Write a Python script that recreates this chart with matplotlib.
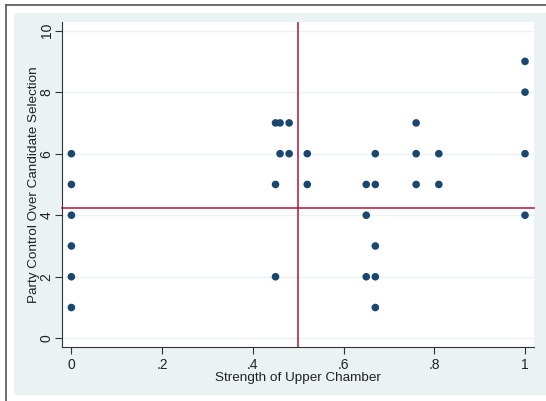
import matplotlib
matplotlib.use("Agg")
import matplotlib.pyplot as plt
from matplotlib.patches import Rectangle

plt.rcParams['font.family'] = ['Liberation Sans', 'DejaVu Sans']

strength = [0, 0, 0, 0, 0, 0,
            0.45, 0.45, 0.45,
            0.46, 0.46,
            0.48, 0.48,
            0.52, 0.52,
            0.65, 0.65, 0.65,
            0.67, 0.67, 0.67, 0.67, 0.67,
            0.76, 0.76, 0.76,
            0.81, 0.81,
            1, 1, 1, 1]
control = [6, 5, 4, 3, 2, 1,
           7, 5, 2,
           7, 6,
           7, 6,
           6, 5,
           5, 4, 2,
           6, 5, 3, 2, 1,
           7, 6, 5,
           6, 5,
           9, 8, 6, 4]
x_ref = 0.5
y_ref = 4.22
xticks = [0, 0.2, 0.4, 0.6, 0.8, 1]
xticklabels = ['0', '.2', '.4', '.6', '.8', '1']
yticks = [0, 2, 4, 6, 8, 10]

W, H = 546, 401
fig = plt.figure(figsize=(W/100, H/100), dpi=100)
fig.patch.set_facecolor('white')

# background axes for light panel and outer border
bg = fig.add_axes([0, 0, 1, 1], zorder=-5)
bg.set_xlim(0, W)
bg.set_ylim(H, 0)
bg.axis('off')
bg.add_patch(Rectangle((14, 13), 546 - 14, 395 - 13, facecolor='#eaf2f3',
                       edgecolor='none'))
bg.plot([5.5, 5.5], [H, 5], color='#555555', lw=1.2)
bg.plot([5.5, W], [5, 5], color='#555555', lw=1.2)

ax = fig.add_axes([62/W, 1 - 347/H, (534-62)/W, (347-22)/H], zorder=1)
ax.set_facecolor('white')
ax.set_xlim(-0.0207, 1.0198)
ax.set_ylim(-0.283, 10.28)

for yt in yticks:
    ax.axhline(yt, color='#eaf2f3', lw=1.0, zorder=1)

ax.scatter(strength, control, s=30, color='#1a476f', edgecolors='none', zorder=3)
ax.axvline(x_ref, color='#b5123a', lw=1.1, zorder=2)
ax.axhline(y_ref, color='#b5123a', lw=1.1, zorder=2, clip_on=False)

ax.spines['top'].set_visible(False)
ax.spines['right'].set_visible(False)
ax.spines['left'].set_color('#333333')
ax.spines['bottom'].set_color('#333333')

ax.set_xticks(xticks)
ax.set_xticklabels(xticklabels)
ax.set_yticks(yticks)
ax.set_yticklabels([str(v) for v in yticks], rotation=90, va='center')
ax.tick_params(axis='both', direction='out', length=5, color='#333333',
               labelsize=10, labelcolor='#222222')
ax.tick_params(axis='x', pad=3)
ax.tick_params(axis='y', pad=1)

ax.set_xlabel('Strength of Upper Chamber', fontsize=9.7, color='#222222', labelpad=0)
ax.set_ylabel('Party Control Over Candidate Selection', fontsize=9.7,
              color='#222222', labelpad=0)

fig.savefig('out.png', dpi=100, facecolor=fig.get_facecolor())
